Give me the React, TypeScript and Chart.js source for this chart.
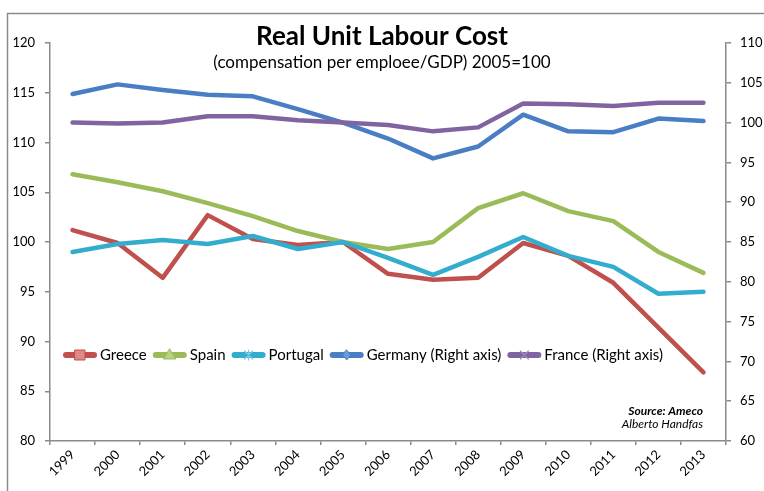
import React, { useEffect, useRef } from "react";
import { Chart, registerables } from "chart.js";

Chart.register(...registerables);

const years = ["1999", "2000", "2001", "2002", "2003", "2004", "2005", "2006", "2007", "2008", "2009", "2010", "2011", "2012", "2013"];
const greece = [101.2, 99.9, 96.4, 102.7, 100.3, 99.7, 100.0, 96.8, 96.2, 96.4, 99.9, 98.6, 95.9, 91.4, 86.9];
const spain = [106.8, 106.0, 105.1, 103.9, 102.6, 101.1, 100.0, 99.3, 100.0, 103.4, 104.9, 103.1, 102.1, 99.0, 96.9];
const portugal = [99.0, 99.8, 100.2, 99.8, 100.6, 99.3, 100.0, 98.4, 96.7, 98.5, 100.5, 98.6, 97.5, 94.8, 95.0];
const germany = [103.6, 104.8, 104.1, 103.5, 103.3, 101.7, 100.0, 98.0, 95.5, 97.0, 101.0, 98.9, 98.8, 100.5, 100.2];
const france = [100.0, 99.9, 100.0, 100.8, 100.8, 100.3, 100.0, 99.7, 98.9, 99.4, 102.4, 102.3, 102.1, 102.5, 102.5];

const titleText = "Real Unit Labour Cost";
const subtitleText = "(compensation per emploee/GDP) 2005=100";
const sourceText = "Source: Ameco";
const authorText = "Alberto Handfas";

const seriesLabels = ["Greece", "Spain", "Portugal", "Germany (Right axis)", "France (Right axis)"];
const seriesColors = ["#C0504D", "#9BBB59", "#33ADCE", "#4A7EC4", "#8064A2"];
const markerFills = ["#E08A87", "#B5D27F", "#7FCBE0", "#6F9AD6", "#A08CC0"];
const markers = ["square", "triangle", "star", "diamond", "cross"];

const FONT = "Lato, 'Open Sans', sans-serif";
const AXIS_COLOR = "#8A8A8A";

function drawMarker(ctx: CanvasRenderingContext2D, type: string, x: number, y: number, stroke: string, fill: string) {
  ctx.save();
  ctx.lineWidth = 1;
  ctx.strokeStyle = stroke;
  ctx.fillStyle = fill;
  ctx.beginPath();
  if (type === "square") {
    ctx.rect(x - 5, y - 5, 10, 10);
    ctx.fill();
    ctx.stroke();
  } else if (type === "triangle") {
    ctx.moveTo(x, y - 6);
    ctx.lineTo(x + 6, y + 4);
    ctx.lineTo(x - 6, y + 4);
    ctx.closePath();
    ctx.fill();
    ctx.stroke();
  } else if (type === "diamond") {
    ctx.moveTo(x, y - 5);
    ctx.lineTo(x + 4, y);
    ctx.lineTo(x, y + 5);
    ctx.lineTo(x - 4, y);
    ctx.closePath();
    ctx.fill();
    ctx.stroke();
  } else if (type === "star") {
    ctx.strokeStyle = fill;
    ctx.lineWidth = 1.2;
    ctx.moveTo(x - 4, y - 4);
    ctx.lineTo(x + 4, y + 4);
    ctx.moveTo(x + 4, y - 4);
    ctx.lineTo(x - 4, y + 4);
    ctx.moveTo(x, y - 5);
    ctx.lineTo(x, y + 5);
    ctx.stroke();
  } else {
    ctx.strokeStyle = fill;
    ctx.lineWidth = 1.2;
    ctx.moveTo(x - 4, y - 4);
    ctx.lineTo(x + 4, y + 4);
    ctx.moveTo(x + 4, y - 4);
    ctx.lineTo(x - 4, y + 4);
    ctx.stroke();
  }
  ctx.restore();
}

const decorPlugin = {
  id: "decor",
  beforeDraw(chart: any) {
    const ctx = chart.ctx as CanvasRenderingContext2D;
    ctx.save();
    ctx.strokeStyle = "#8C8C8C";
    ctx.lineWidth = 1.5;
    ctx.strokeRect(7.5, 13.5, 800, 600);
    ctx.restore();
  },
  afterDraw(chart: any) {
    const ctx = chart.ctx as CanvasRenderingContext2D;
    ctx.save();
    ctx.fillStyle = "#000";
    ctx.textAlign = "center";
    ctx.textBaseline = "middle";
    ctx.font = `bold 26px ${FONT}`;
    ctx.fillText(titleText, 382, 37);
    ctx.font = `17px ${FONT}`;
    ctx.fillText(subtitleText, 382, 63);

    // legend
    ctx.textAlign = "left";
    ctx.font = `15px ${FONT}`;
    let x = 63;
    const y = 355;
    for (let i = 0; i < seriesLabels.length; i++) {
      ctx.strokeStyle = seriesColors[i];
      ctx.lineWidth = 6;
      ctx.lineCap = "round";
      ctx.beginPath();
      ctx.moveTo(x + 3, y);
      ctx.lineTo(x + 31, y);
      ctx.stroke();
      drawMarker(ctx, markers[i], x + 17, y, seriesColors[i], markerFills[i]);
      ctx.fillStyle = "#000";
      ctx.fillText(seriesLabels[i], x + 37, y);
      x += 37 + ctx.measureText(seriesLabels[i]).width + 6;
    }

    // source
    ctx.textAlign = "right";
    ctx.font = `italic bold 12px ${FONT}`;
    ctx.fillText(sourceText, 703, 411);
    ctx.font = `italic 12px ${FONT}`;
    ctx.fillText(authorText, 703, 424);
    ctx.restore();
  },
};

export default function App() {
  const ref = useRef<HTMLCanvasElement | null>(null);
  useEffect(() => {
    if (!ref.current) return;
    const data = [greece, spain, portugal, germany, france];
    const datasets = data.map((d, i) => ({
      label: seriesLabels[i],
      data: d,
      borderColor: seriesColors[i],
      backgroundColor: seriesColors[i],
      borderWidth: 4.5,
      pointRadius: 0,
      tension: 0,
      borderJoinStyle: "round" as const,
      borderCapStyle: "round" as const,
      yAxisID: i < 3 ? "y" : "y1",
      order: 5 - i,
    }));
    const tickFont = { family: FONT, size: 13 };
    const chart = new Chart(ref.current, {
      type: "line",
      data: { labels: years, datasets },
      plugins: [decorPlugin],
      options: {
        responsive: false,
        animation: false,
        devicePixelRatio: 1,
        layout: { padding: { top: 43, left: 0, right: 0, bottom: 0 } },
        plugins: {
          legend: { display: false },
          title: { display: false },
          tooltip: { enabled: false },
        },
        scales: {
          x: {
            type: "category",
            offset: true,
            grid: { offset: true, drawOnChartArea: false, drawTicks: true, tickLength: 4, color: AXIS_COLOR, lineWidth: 1.5 },
            border: { color: AXIS_COLOR, width: 1.5 },
            ticks: { color: "#000", font: tickFont, minRotation: 45, maxRotation: 45, padding: 2, autoSkip: false },
            afterFit: (s: any) => { s.height = 50; },
          },
          y: {
            position: "left",
            min: 80,
            max: 120,
            ticks: { stepSize: 5, color: "#000", font: tickFont, padding: 10 },
            grid: { drawOnChartArea: false, drawTicks: true, tickLength: 5, color: AXIS_COLOR, lineWidth: 1.5 },
            border: { color: AXIS_COLOR, width: 1.5 },
            afterFit: (s: any) => { s.width = 50; },
          },
          y1: {
            position: "right",
            min: 60,
            max: 110,
            ticks: { stepSize: 5, color: "#000", font: tickFont, padding: 9 },
            grid: { drawOnChartArea: false, drawTicks: true, tickLength: 5, color: AXIS_COLOR, lineWidth: 1.5 },
            border: { color: AXIS_COLOR, width: 1.5 },
            afterFit: (s: any) => { s.width = 38; },
          },
        },
      },
    });
    return () => chart.destroy();
  }, []);
  return (
    <canvas
      ref={ref}
      width={764}
      height={491}
      style={{ position: "fixed", left: 0, top: 0, width: 764, height: 491, background: "#fff" }}
    />
  );
}
